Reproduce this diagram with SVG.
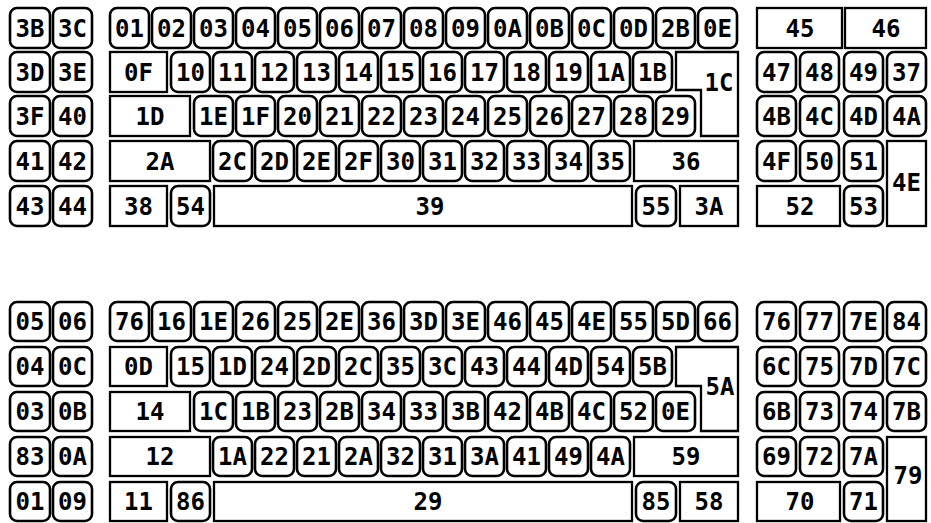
<svg xmlns="http://www.w3.org/2000/svg" width="931" height="523" viewBox="0 0 931 523">
<style>
.k{fill:#fff;stroke:#000;stroke-width:2.6}
rect.k{rx:7px}
.w{fill:#fff;stroke:#000;stroke-width:2.3}
text{font-family:"DejaVu Sans Mono","Liberation Mono",monospace;font-weight:bold;font-size:24px;text-anchor:middle;fill:#000}
</style>
<rect width="931" height="523" fill="#fff"/>
<g id="connectors"/>
<g id="top">
<g id="t-3B"><rect class="k" x="10" y="8" width="40" height="40"/><text x="30" y="37">3B</text></g>
<g id="t-3C"><rect class="k" x="53" y="8" width="39" height="40"/><text x="72.5" y="37">3C</text></g>
<g id="t-3D"><rect class="k" x="10" y="52" width="40" height="40"/><text x="30" y="81">3D</text></g>
<g id="t-3E"><rect class="k" x="53" y="52" width="39" height="40"/><text x="72.5" y="81">3E</text></g>
<g id="t-3F"><rect class="k" x="10" y="96" width="40" height="40"/><text x="30" y="125">3F</text></g>
<g id="t-40"><rect class="k" x="53" y="96" width="39" height="40"/><text x="72.5" y="125">40</text></g>
<g id="t-41"><rect class="k" x="10" y="141" width="40" height="40"/><text x="30" y="170">41</text></g>
<g id="t-42"><rect class="k" x="53" y="141" width="39" height="40"/><text x="72.5" y="170">42</text></g>
<g id="t-43"><rect class="k" x="10" y="186" width="40" height="40"/><text x="30" y="215">43</text></g>
<g id="t-44"><rect class="k" x="53" y="186" width="39" height="40"/><text x="72.5" y="215">44</text></g>
<g id="t-01"><rect class="k" x="110" y="8" width="39" height="40"/><text x="129.5" y="37">01</text></g>
<g id="t-02"><rect class="k" x="152" y="8" width="39" height="40"/><text x="171.5" y="37">02</text></g>
<g id="t-03"><rect class="k" x="194" y="8" width="39" height="40"/><text x="213.5" y="37">03</text></g>
<g id="t-04"><rect class="k" x="236" y="8" width="39" height="40"/><text x="255.5" y="37">04</text></g>
<g id="t-05"><rect class="k" x="278" y="8" width="39" height="40"/><text x="297.5" y="37">05</text></g>
<g id="t-06"><rect class="k" x="320" y="8" width="39" height="40"/><text x="339.5" y="37">06</text></g>
<g id="t-07"><rect class="k" x="362" y="8" width="39" height="40"/><text x="381.5" y="37">07</text></g>
<g id="t-08"><rect class="k" x="404" y="8" width="39" height="40"/><text x="423.5" y="37">08</text></g>
<g id="t-09"><rect class="k" x="446" y="8" width="39" height="40"/><text x="465.5" y="37">09</text></g>
<g id="t-0A"><rect class="k" x="488" y="8" width="39" height="40"/><text x="507.5" y="37">0A</text></g>
<g id="t-0B"><rect class="k" x="530" y="8" width="39" height="40"/><text x="549.5" y="37">0B</text></g>
<g id="t-0C"><rect class="k" x="572" y="8" width="39" height="40"/><text x="591.5" y="37">0C</text></g>
<g id="t-0D"><rect class="k" x="614" y="8" width="39" height="40"/><text x="633.5" y="37">0D</text></g>
<g id="t-2B"><rect class="k" x="656" y="8" width="39" height="40"/><text x="675.5" y="37">2B</text></g>
<g id="t-0E"><rect class="k" x="698" y="8" width="39" height="40"/><text x="717.5" y="37">0E</text></g>
<g id="t-0F"><rect class="w" x="110" y="52" width="57" height="40"/><text x="138.5" y="81">0F</text></g>
<g id="t-10"><rect class="k" x="171" y="52" width="39" height="40"/><text x="190.5" y="81">10</text></g>
<g id="t-11"><rect class="k" x="213" y="52" width="39" height="40"/><text x="232.5" y="81">11</text></g>
<g id="t-12"><rect class="k" x="255" y="52" width="39" height="40"/><text x="274.5" y="81">12</text></g>
<g id="t-13"><rect class="k" x="297" y="52" width="39" height="40"/><text x="316.5" y="81">13</text></g>
<g id="t-14"><rect class="k" x="339" y="52" width="39" height="40"/><text x="358.5" y="81">14</text></g>
<g id="t-15"><rect class="k" x="381" y="52" width="39" height="40"/><text x="400.5" y="81">15</text></g>
<g id="t-16"><rect class="k" x="423" y="52" width="39" height="40"/><text x="442.5" y="81">16</text></g>
<g id="t-17"><rect class="k" x="465" y="52" width="39" height="40"/><text x="484.5" y="81">17</text></g>
<g id="t-18"><rect class="k" x="507" y="52" width="39" height="40"/><text x="526.5" y="81">18</text></g>
<g id="t-19"><rect class="k" x="549" y="52" width="39" height="40"/><text x="568.5" y="81">19</text></g>
<g id="t-1A"><rect class="k" x="591" y="52" width="39" height="40"/><text x="610.5" y="81">1A</text></g>
<g id="t-1B"><rect class="k" x="633" y="52" width="39" height="40"/><text x="652.5" y="81">1B</text></g>
<g id="t-1C"><path class="w" d="M676,52 H738 V136 H701 V90 H676 Z"/><text x="719" y="91">1C</text></g>
<g id="t-1D"><rect class="w" x="110" y="96" width="80" height="40"/><text x="150" y="125">1D</text></g>
<g id="t-1E"><rect class="k" x="194" y="96" width="39" height="40"/><text x="213.5" y="125">1E</text></g>
<g id="t-1F"><rect class="k" x="236" y="96" width="39" height="40"/><text x="255.5" y="125">1F</text></g>
<g id="t-20"><rect class="k" x="278" y="96" width="39" height="40"/><text x="297.5" y="125">20</text></g>
<g id="t-21"><rect class="k" x="320" y="96" width="39" height="40"/><text x="339.5" y="125">21</text></g>
<g id="t-22"><rect class="k" x="362" y="96" width="39" height="40"/><text x="381.5" y="125">22</text></g>
<g id="t-23"><rect class="k" x="404" y="96" width="39" height="40"/><text x="423.5" y="125">23</text></g>
<g id="t-24"><rect class="k" x="446" y="96" width="39" height="40"/><text x="465.5" y="125">24</text></g>
<g id="t-25"><rect class="k" x="488" y="96" width="39" height="40"/><text x="507.5" y="125">25</text></g>
<g id="t-26"><rect class="k" x="530" y="96" width="39" height="40"/><text x="549.5" y="125">26</text></g>
<g id="t-27"><rect class="k" x="572" y="96" width="39" height="40"/><text x="591.5" y="125">27</text></g>
<g id="t-28"><rect class="k" x="614" y="96" width="39" height="40"/><text x="633.5" y="125">28</text></g>
<g id="t-29"><rect class="k" x="656" y="96" width="39" height="40"/><text x="675.5" y="125">29</text></g>
<g id="t-2A"><rect class="w" x="110" y="141" width="100" height="40"/><text x="160" y="170">2A</text></g>
<g id="t-2C"><rect class="k" x="213" y="141" width="39" height="40"/><text x="232.5" y="170">2C</text></g>
<g id="t-2D"><rect class="k" x="255" y="141" width="39" height="40"/><text x="274.5" y="170">2D</text></g>
<g id="t-2E"><rect class="k" x="297" y="141" width="39" height="40"/><text x="316.5" y="170">2E</text></g>
<g id="t-2F"><rect class="k" x="339" y="141" width="39" height="40"/><text x="358.5" y="170">2F</text></g>
<g id="t-30"><rect class="k" x="381" y="141" width="39" height="40"/><text x="400.5" y="170">30</text></g>
<g id="t-31"><rect class="k" x="423" y="141" width="39" height="40"/><text x="442.5" y="170">31</text></g>
<g id="t-32"><rect class="k" x="465" y="141" width="39" height="40"/><text x="484.5" y="170">32</text></g>
<g id="t-33"><rect class="k" x="507" y="141" width="39" height="40"/><text x="526.5" y="170">33</text></g>
<g id="t-34"><rect class="k" x="549" y="141" width="39" height="40"/><text x="568.5" y="170">34</text></g>
<g id="t-35"><rect class="k" x="591" y="141" width="39" height="40"/><text x="610.5" y="170">35</text></g>
<g id="t-36"><rect class="w" x="634" y="141" width="104" height="40"/><text x="686" y="170">36</text></g>
<g id="t-38"><rect class="w" x="110" y="186" width="57" height="40"/><text x="138.5" y="215">38</text></g>
<g id="t-54"><rect class="k" x="171" y="186" width="39" height="40"/><text x="190.5" y="215">54</text></g>
<g id="t-39"><rect class="w" x="214" y="186" width="418" height="40"/><text x="430" y="215">39</text></g>
<g id="t-55"><rect class="k" x="636" y="186" width="40" height="40"/><text x="656" y="215">55</text></g>
<g id="t-3A"><rect class="w" x="680" y="186" width="58" height="40"/><text x="709" y="215">3A</text></g>
<g id="t-45"><rect class="w" x="757" y="8" width="85" height="40"/><text x="800" y="37">45</text></g>
<g id="t-46"><rect class="w" x="845" y="8" width="81" height="40"/><text x="886" y="37">46</text></g>
<g id="t-47"><rect class="k" x="757" y="52" width="39" height="40"/><text x="776.5" y="81">47</text></g>
<g id="t-48"><rect class="k" x="800" y="52" width="39" height="40"/><text x="819.5" y="81">48</text></g>
<g id="t-49"><rect class="k" x="844" y="52" width="39" height="40"/><text x="863.5" y="81">49</text></g>
<g id="t-37"><rect class="k" x="887" y="52" width="39" height="40"/><text x="906.5" y="81">37</text></g>
<g id="t-4B"><rect class="k" x="757" y="96" width="39" height="40"/><text x="776.5" y="125">4B</text></g>
<g id="t-4C"><rect class="k" x="800" y="96" width="39" height="40"/><text x="819.5" y="125">4C</text></g>
<g id="t-4D"><rect class="k" x="844" y="96" width="39" height="40"/><text x="863.5" y="125">4D</text></g>
<g id="t-4A"><rect class="k" x="887" y="96" width="39" height="40"/><text x="906.5" y="125">4A</text></g>
<g id="t-4F"><rect class="k" x="757" y="141" width="39" height="40"/><text x="776.5" y="170">4F</text></g>
<g id="t-50"><rect class="k" x="800" y="141" width="39" height="40"/><text x="819.5" y="170">50</text></g>
<g id="t-51"><rect class="k" x="844" y="141" width="39" height="40"/><text x="863.5" y="170">51</text></g>
<g id="t-4E"><rect class="w" x="887" y="141" width="39" height="85"/><text x="906.5" y="191">4E</text></g>
<g id="t-52"><rect class="w" x="757" y="186" width="83" height="40"/><text x="800" y="215">52</text></g>
<g id="t-53"><rect class="k" x="844" y="186" width="39" height="40"/><text x="863.5" y="215">53</text></g>
</g>
<g id="bottom">
<g id="b-05"><rect class="k" x="10" y="302" width="40" height="39"/><text x="30" y="330">05</text></g>
<g id="b-06"><rect class="k" x="53" y="302" width="39" height="39"/><text x="72.5" y="330">06</text></g>
<g id="b-04"><rect class="k" x="10" y="347" width="40" height="39"/><text x="30" y="375">04</text></g>
<g id="b-0C"><rect class="k" x="53" y="347" width="39" height="39"/><text x="72.5" y="375">0C</text></g>
<g id="b-03"><rect class="k" x="10" y="392" width="40" height="39"/><text x="30" y="420">03</text></g>
<g id="b-0B"><rect class="k" x="53" y="392" width="39" height="39"/><text x="72.5" y="420">0B</text></g>
<g id="b-83"><rect class="k" x="10" y="437" width="40" height="39"/><text x="30" y="465">83</text></g>
<g id="b-0A"><rect class="k" x="53" y="437" width="39" height="39"/><text x="72.5" y="465">0A</text></g>
<g id="b-01"><rect class="k" x="10" y="482" width="40" height="39"/><text x="30" y="510">01</text></g>
<g id="b-09"><rect class="k" x="53" y="482" width="39" height="39"/><text x="72.5" y="510">09</text></g>
<g id="b-76"><rect class="k" x="110" y="302" width="39" height="39"/><text x="129.5" y="330">76</text></g>
<g id="b-16"><rect class="k" x="152" y="302" width="39" height="39"/><text x="171.5" y="330">16</text></g>
<g id="b-1E"><rect class="k" x="194" y="302" width="39" height="39"/><text x="213.5" y="330">1E</text></g>
<g id="b-26"><rect class="k" x="236" y="302" width="39" height="39"/><text x="255.5" y="330">26</text></g>
<g id="b-25"><rect class="k" x="278" y="302" width="39" height="39"/><text x="297.5" y="330">25</text></g>
<g id="b-2E"><rect class="k" x="320" y="302" width="39" height="39"/><text x="339.5" y="330">2E</text></g>
<g id="b-36"><rect class="k" x="362" y="302" width="39" height="39"/><text x="381.5" y="330">36</text></g>
<g id="b-3D"><rect class="k" x="404" y="302" width="39" height="39"/><text x="423.5" y="330">3D</text></g>
<g id="b-3E"><rect class="k" x="446" y="302" width="39" height="39"/><text x="465.5" y="330">3E</text></g>
<g id="b-46"><rect class="k" x="488" y="302" width="39" height="39"/><text x="507.5" y="330">46</text></g>
<g id="b-45"><rect class="k" x="530" y="302" width="39" height="39"/><text x="549.5" y="330">45</text></g>
<g id="b-4E"><rect class="k" x="572" y="302" width="39" height="39"/><text x="591.5" y="330">4E</text></g>
<g id="b-55"><rect class="k" x="614" y="302" width="39" height="39"/><text x="633.5" y="330">55</text></g>
<g id="b-5D"><rect class="k" x="656" y="302" width="39" height="39"/><text x="675.5" y="330">5D</text></g>
<g id="b-66"><rect class="k" x="698" y="302" width="39" height="39"/><text x="717.5" y="330">66</text></g>
<g id="b-0D"><rect class="w" x="110" y="347" width="57" height="39"/><text x="138.5" y="375">0D</text></g>
<g id="b-15"><rect class="k" x="171" y="347" width="39" height="39"/><text x="190.5" y="375">15</text></g>
<g id="b-1D"><rect class="k" x="213" y="347" width="39" height="39"/><text x="232.5" y="375">1D</text></g>
<g id="b-24"><rect class="k" x="255" y="347" width="39" height="39"/><text x="274.5" y="375">24</text></g>
<g id="b-2D"><rect class="k" x="297" y="347" width="39" height="39"/><text x="316.5" y="375">2D</text></g>
<g id="b-2C"><rect class="k" x="339" y="347" width="39" height="39"/><text x="358.5" y="375">2C</text></g>
<g id="b-35"><rect class="k" x="381" y="347" width="39" height="39"/><text x="400.5" y="375">35</text></g>
<g id="b-3C"><rect class="k" x="423" y="347" width="39" height="39"/><text x="442.5" y="375">3C</text></g>
<g id="b-43"><rect class="k" x="465" y="347" width="39" height="39"/><text x="484.5" y="375">43</text></g>
<g id="b-44"><rect class="k" x="507" y="347" width="39" height="39"/><text x="526.5" y="375">44</text></g>
<g id="b-4D"><rect class="k" x="549" y="347" width="39" height="39"/><text x="568.5" y="375">4D</text></g>
<g id="b-54"><rect class="k" x="591" y="347" width="39" height="39"/><text x="610.5" y="375">54</text></g>
<g id="b-5B"><rect class="k" x="633" y="347" width="39" height="39"/><text x="652.5" y="375">5B</text></g>
<g id="b-5A"><path class="w" d="M676,347 H738 V431 H701 V386 H676 Z"/><text x="720" y="395">5A</text></g>
<g id="b-14"><rect class="w" x="110" y="392" width="80" height="39"/><text x="150" y="420">14</text></g>
<g id="b-1C"><rect class="k" x="194" y="392" width="39" height="39"/><text x="213.5" y="420">1C</text></g>
<g id="b-1B"><rect class="k" x="236" y="392" width="39" height="39"/><text x="255.5" y="420">1B</text></g>
<g id="b-23"><rect class="k" x="278" y="392" width="39" height="39"/><text x="297.5" y="420">23</text></g>
<g id="b-2B"><rect class="k" x="320" y="392" width="39" height="39"/><text x="339.5" y="420">2B</text></g>
<g id="b-34"><rect class="k" x="362" y="392" width="39" height="39"/><text x="381.5" y="420">34</text></g>
<g id="b-33"><rect class="k" x="404" y="392" width="39" height="39"/><text x="423.5" y="420">33</text></g>
<g id="b-3B"><rect class="k" x="446" y="392" width="39" height="39"/><text x="465.5" y="420">3B</text></g>
<g id="b-42"><rect class="k" x="488" y="392" width="39" height="39"/><text x="507.5" y="420">42</text></g>
<g id="b-4B"><rect class="k" x="530" y="392" width="39" height="39"/><text x="549.5" y="420">4B</text></g>
<g id="b-4C"><rect class="k" x="572" y="392" width="39" height="39"/><text x="591.5" y="420">4C</text></g>
<g id="b-52"><rect class="k" x="614" y="392" width="39" height="39"/><text x="633.5" y="420">52</text></g>
<g id="b-0E"><rect class="k" x="656" y="392" width="39" height="39"/><text x="675.5" y="420">0E</text></g>
<g id="b-12"><rect class="w" x="110" y="437" width="100" height="39"/><text x="160" y="465">12</text></g>
<g id="b-1A"><rect class="k" x="213" y="437" width="39" height="39"/><text x="232.5" y="465">1A</text></g>
<g id="b-22"><rect class="k" x="255" y="437" width="39" height="39"/><text x="274.5" y="465">22</text></g>
<g id="b-21"><rect class="k" x="297" y="437" width="39" height="39"/><text x="316.5" y="465">21</text></g>
<g id="b-2A"><rect class="k" x="339" y="437" width="39" height="39"/><text x="358.5" y="465">2A</text></g>
<g id="b-32"><rect class="k" x="381" y="437" width="39" height="39"/><text x="400.5" y="465">32</text></g>
<g id="b-31"><rect class="k" x="423" y="437" width="39" height="39"/><text x="442.5" y="465">31</text></g>
<g id="b-3A"><rect class="k" x="465" y="437" width="39" height="39"/><text x="484.5" y="465">3A</text></g>
<g id="b-41"><rect class="k" x="507" y="437" width="39" height="39"/><text x="526.5" y="465">41</text></g>
<g id="b-49"><rect class="k" x="549" y="437" width="39" height="39"/><text x="568.5" y="465">49</text></g>
<g id="b-4A"><rect class="k" x="591" y="437" width="39" height="39"/><text x="610.5" y="465">4A</text></g>
<g id="b-59"><rect class="w" x="634" y="437" width="104" height="39"/><text x="686" y="465">59</text></g>
<g id="b-11"><rect class="w" x="110" y="482" width="57" height="39"/><text x="138.5" y="510">11</text></g>
<g id="b-86"><rect class="k" x="171" y="482" width="39" height="39"/><text x="190.5" y="510">86</text></g>
<g id="b-29"><rect class="w" x="214" y="482" width="418" height="39"/><text x="428" y="510">29</text></g>
<g id="b-85"><rect class="k" x="636" y="482" width="40" height="39"/><text x="656" y="510">85</text></g>
<g id="b-58"><rect class="w" x="680" y="482" width="58" height="39"/><text x="709" y="510">58</text></g>
<g id="b-pad-76"><rect class="k" x="757" y="302" width="39" height="39"/><text x="776.5" y="330">76</text></g>
<g id="b-77"><rect class="k" x="800" y="302" width="39" height="39"/><text x="819.5" y="330">77</text></g>
<g id="b-7E"><rect class="k" x="844" y="302" width="39" height="39"/><text x="863.5" y="330">7E</text></g>
<g id="b-84"><rect class="k" x="887" y="302" width="39" height="39"/><text x="906.5" y="330">84</text></g>
<g id="b-6C"><rect class="k" x="757" y="347" width="39" height="39"/><text x="776.5" y="375">6C</text></g>
<g id="b-75"><rect class="k" x="800" y="347" width="39" height="39"/><text x="819.5" y="375">75</text></g>
<g id="b-7D"><rect class="k" x="844" y="347" width="39" height="39"/><text x="863.5" y="375">7D</text></g>
<g id="b-7C"><rect class="k" x="887" y="347" width="39" height="39"/><text x="906.5" y="375">7C</text></g>
<g id="b-6B"><rect class="k" x="757" y="392" width="39" height="39"/><text x="776.5" y="420">6B</text></g>
<g id="b-73"><rect class="k" x="800" y="392" width="39" height="39"/><text x="819.5" y="420">73</text></g>
<g id="b-74"><rect class="k" x="844" y="392" width="39" height="39"/><text x="863.5" y="420">74</text></g>
<g id="b-7B"><rect class="k" x="887" y="392" width="39" height="39"/><text x="906.5" y="420">7B</text></g>
<g id="b-69"><rect class="k" x="757" y="437" width="39" height="39"/><text x="776.5" y="465">69</text></g>
<g id="b-72"><rect class="k" x="800" y="437" width="39" height="39"/><text x="819.5" y="465">72</text></g>
<g id="b-7A"><rect class="k" x="844" y="437" width="39" height="39"/><text x="863.5" y="465">7A</text></g>
<g id="b-79"><rect class="w" x="887" y="437" width="39" height="84"/><text x="908" y="484">79</text></g>
<g id="b-70"><rect class="w" x="757" y="482" width="83" height="39"/><text x="800" y="510">70</text></g>
<g id="b-71"><rect class="k" x="844" y="482" width="39" height="39"/><text x="863.5" y="510">71</text></g>
</g>
</svg>
